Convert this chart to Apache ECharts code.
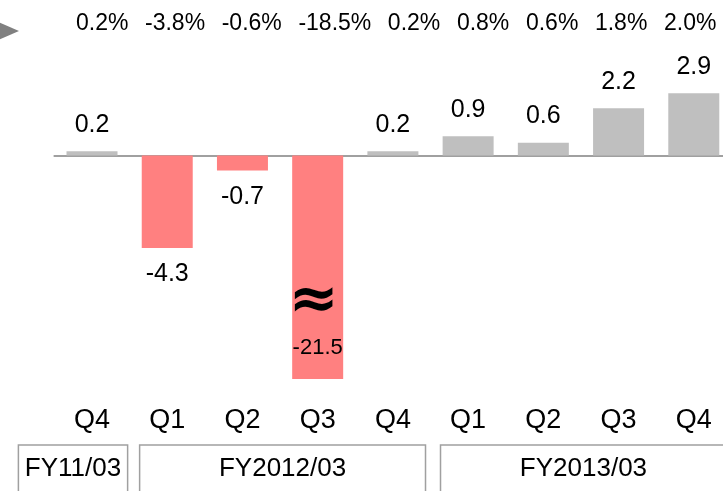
<!DOCTYPE html>
<html>
<head>
<meta charset="utf-8">
<script src="https://cdn.jsdelivr.net/npm/echarts@6/dist/echarts.min.js"></script>
<style>
html,body{margin:0;padding:0;background:#fff;}
#main{width:723px;height:491px;}
</style>
</head>
<body>
<div id="main"></div>
<script>
// ---- data ----
var quarters = ['Q4', 'Q1', 'Q2', 'Q3', 'Q4', 'Q1', 'Q2', 'Q3', 'Q4'];
var values = [0.2, -4.3, -0.7, -21.5, 0.2, 0.9, 0.6, 2.2, 2.9];
var growthRates = ['0.2%', '-3.8%', '-0.6%', '-18.5%', '0.2%', '0.8%', '0.6%', '1.8%', '2.0%'];
var fiscalYears = ['FY11/03', 'FY2012/03', 'FY2013/03'];
var fiscalStart = [0, 1, 5];
var fiscalEnd = [0, 4, 8];
var brokenIndex = 3; // bar shown truncated with a break mark

// ---- layout / style ----
var FONT = 'Liberation Sans, Arial, sans-serif';
var POS_COLOR = '#bfbfbf';
var NEG_COLOR = '#ff8080';
var LINE_COLOR = '#a0a0a0';
var boxPadLeft = [-36, 10, 10];
var boxPadRight = [2, 5, 5];

var chart = echarts.init(document.getElementById('main'));

var seriesData = values.map(function (v, i) {
  var item = {
    value: v,
    itemStyle: { color: v < 0 ? NEG_COLOR : POS_COLOR },
    label: { position: v < 0 ? 'bottom' : 'top' }
  };
  if (i === brokenIndex) {
    item.label = {
      position: 'insideBottom',
      distance: 18,
      formatter: '{s|≈}\n{v|{c}}',
      rich: {
        s: { fontSize: 60, fontWeight: 'bold', fontFamily: 'DejaVu Sans', color: '#000', lineHeight: 66, padding: [0, 8, 0, 0] },
        v: { fontSize: 22, fontFamily: FONT, color: '#000', lineHeight: 26 }
      }
    };
  }
  return item;
});

var gapToken = '{g| }';
var rowText = growthRates.map(function (g) { return '{p|' + g + '}'; }).join(gapToken);

chart.setOption({
  animation: false,
  grid: { left: 54.4, top: 61, width: 677, height: 318, outerBoundsMode: 'none', containLabel: false },
  xAxis: [
    {
      type: 'category',
      data: quarters,
      axisLine: { onZero: true, lineStyle: { color: LINE_COLOR, width: 2 } },
      axisTick: { show: false },
      axisLabel: { show: false },
      splitLine: { show: false }
    },
    {
      type: 'category',
      data: quarters,
      position: 'bottom',
      axisLine: { show: false, onZero: false },
      axisTick: { show: false },
      axisLabel: { margin: 28, fontSize: 27, fontFamily: FONT, color: '#000' },
      splitLine: { show: false }
    }
  ],
  yAxis: {
    type: 'value',
    min: -10.4,
    max: 4.4,
    show: false,
    splitLine: { show: false }
  },
  series: [{
    type: 'bar',
    xAxisIndex: 0,
    barWidth: 51,
    clip: true,
    data: seriesData,
    label: {
      show: true,
      distance: 14,
      fontSize: 25,
      fontFamily: FONT,
      color: '#000'
    }
  }]
});

// fiscal year group boxes and the growth-rate row
var half = 677 / quarters.length / 2;
var graphics = [];
fiscalYears.forEach(function (fy, k) {
  var x0 = chart.convertToPixel({ xAxisIndex: 0 }, fiscalStart[k]) - half + boxPadLeft[k];
  var x1 = chart.convertToPixel({ xAxisIndex: 0 }, fiscalEnd[k]) + half - boxPadRight[k];
  graphics.push({
    type: 'polyline',
    shape: { points: [[x0, 500], [x0, 445], [x1, 445], [x1, 500]] },
    style: { stroke: LINE_COLOR, lineWidth: 1.5, fill: null }
  });
  graphics.push({
    type: 'text',
    x: (x0 + x1) / 2,
    y: 469,
    style: { text: fy, align: 'center', verticalAlign: 'middle', fontSize: 26, fontFamily: FONT, fill: '#000' }
  });
});
graphics.push({
  type: 'text',
  x: 76,
  y: 24,
  style: {
    text: rowText,
    verticalAlign: 'middle',
    fill: '#000',
    rich: {
      p: { fontSize: 23, fontFamily: FONT, fill: '#000', color: '#000' },
      g: { width: 16.6, fontSize: 23, fontFamily: FONT }
    }
  }
});
graphics.push({
  type: 'polygon',
  shape: { points: [[-6, 20], [19, 31], [-6, 42]] },
  style: { fill: '#808080' }
});
chart.setOption({ graphic: graphics });
</script>
</body>
</html>
